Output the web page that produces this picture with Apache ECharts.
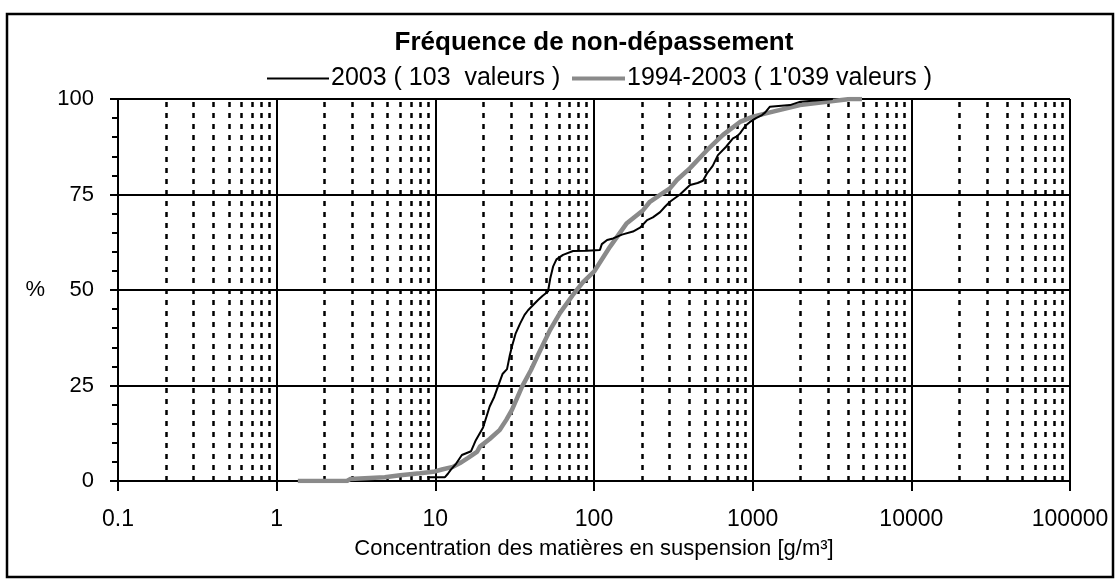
<!DOCTYPE html>
<html>
<head>
<meta charset="utf-8">
<script src="https://cdn.jsdelivr.net/npm/echarts@6/dist/echarts.min.js"></script>
<style>
  html, body { margin: 0; padding: 0; background: #fff; }
  #chart { width: 1120px; height: 583px; }
</style>
</head>
<body>
<div id="chart"></div>
<script>
// Axis tick labels (log x axis: one label per decade)
const xTickLabels = ['0.1', '1', '10', '100', '1000', '10000', '100000'];
const yTickStep = 25;

// Series names
const name2003 = '2003 ( 103  valeurs )';
const nameAll = '1994-2003 ( 1\'039 valeurs )';

// 2003: concentration [g/m3] and cumulative frequency [%]
const conc2003 = [8.9, 11.5, 12.0, 12.5, 13.5, 14.7, 16.8, 17.5, 18.0, 20.0, 22.0, 23.5, 24.8, 26.5, 28.3, 29.5,
  30.4, 32.0, 34.2, 36.5, 38.4, 44.4, 47.5, 51.3, 53.0, 55.2, 58.0, 63.8, 73.8, 90, 109, 112, 121, 132, 150,
  176, 195, 216, 235, 261, 280, 301, 348, 403, 450, 486, 515, 560, 604, 680, 751, 800, 832, 900, 962, 1050,
  1146, 1200, 1285, 1718, 2000, 3200];
const freq2003 = [1.0, 1.0, 1.9, 2.9, 4.5, 6.8, 7.8, 9.5, 10.7, 14.0, 19.5, 22.0, 24.7, 28.0, 29.3, 33.0,
  35.2, 38.5, 41.2, 43.5, 44.7, 47.4, 48.5, 49.6, 53.0, 56.1, 58.0, 59.2, 60.2, 60.3, 60.5, 62.0, 63.1, 63.5, 64.5,
  65.3, 66.3, 68.3, 69.0, 70.4, 71.8, 73.1, 75.0, 77.5, 78.0, 78.6, 80.5, 82.5, 85.3, 87.5, 89.7, 90.3, 91.0, 93.0, 94.0, 95.0,
  95.8, 96.5, 98.0, 98.4, 99.3, 100];

// 1994-2003: concentration [g/m3] and cumulative frequency [%]
const concAll = [1.36, 2.77, 2.9, 4.8, 6.0, 8.0, 9.7, 11.0, 12.9, 14.3, 16.0, 18.3, 19.1, 22.0, 25.5, 28.0,
  30.4, 35.2, 40.0, 43.8, 52.8, 61.1, 73.0, 85.0, 100, 126, 161, 204, 225, 261, 301, 333, 403, 515, 650,
  832, 1005, 1343, 1986, 2938, 4105, 4887];
const freqAll = [0, 0, 0.5, 1.0, 1.5, 2.0, 2.4, 3.0, 3.7, 4.7, 6.0, 7.6, 9.0, 11.0, 13.4, 16.0,
  18.6, 24.7, 29.0, 32.5, 39.5, 44.0, 48.5, 52.0, 54.8, 61.3, 67.5, 70.9, 73.1, 74.9, 76.6, 78.8, 81.9, 86.6, 90.6,
  94.0, 95.4, 96.7, 98.4, 99.3, 100, 100];

const FONT = "'Liberation Sans', Arial, sans-serif";
const BLACK = '#000';
const GREY = '#8a8a8a';

// Intermediate vertical grid positions (2..9 within each decade)
const minorX = [];
for (let e = -1; e < 5; e++) {
  for (let m = 2; m <= 9; m++) minorX.push({ xAxis: m * Math.pow(10, e) });
}

const pairs = (xs, ys) => xs.map((x, i) => [x, ys[i]]);

const legendText = { fontFamily: FONT, fontSize: 25, color: BLACK, padding: [0, 0, 0, -3] };

const chart = echarts.init(document.getElementById('chart'), null, { renderer: 'canvas' });
chart.setOption({
  animation: false,
  backgroundColor: '#fff',
  title: {
    text: 'Fréquence de non-dépassement',
    left: 589,
    textAlign: 'center',
    top: 25,
    textStyle: { fontFamily: FONT, fontSize: 26, fontWeight: 'bold', color: BLACK }
  },
  // Each legend entry is drawn as a plain line segment of the series' stroke
  legend: [
    {
      left: 262, top: 61, itemWidth: 62, itemHeight: 2, icon: 'rect',
      textStyle: legendText,
      data: [{ name: name2003, itemStyle: { color: BLACK } }]
    },
    {
      left: 567, top: 61, itemWidth: 53, itemHeight: 4, icon: 'rect',
      textStyle: legendText,
      data: [{ name: nameAll, itemStyle: { color: GREY } }]
    }
  ],
  graphic: [{
    type: 'rect',
    shape: { x: 7, y: 14, width: 1106, height: 563 },
    style: { fill: 'none', stroke: BLACK, lineWidth: 2.5 },
    silent: true
  }],
  grid: { left: 118, top: 99, width: 952, height: 382 },
  xAxis: {
    type: 'log',
    logBase: 10,
    min: 0.1,
    max: 100000,
    name: 'Concentration des matières en suspension [g/m³]',
    nameLocation: 'middle',
    nameGap: 57,
    nameTextStyle: { fontFamily: FONT, fontSize: 22, color: BLACK },
    axisLine: { show: true, lineStyle: { color: BLACK, width: 2 } },
    axisTick: { show: true, length: 10, lineStyle: { color: BLACK, width: 2 } },
    axisLabel: {
      margin: 27,
      fontFamily: FONT, fontSize: 23, color: BLACK,
      formatter: v => xTickLabels[Math.round(Math.log10(v)) + 1]
    },
    splitLine: { show: true, lineStyle: { color: BLACK, width: 2 } }
  },
  yAxis: {
    type: 'value',
    min: 0,
    max: 100,
    interval: yTickStep,
    name: '%',
    nameLocation: 'middle',
    nameRotate: 0,
    nameGap: 73,
    nameTextStyle: { fontFamily: FONT, fontSize: 22, color: BLACK },
    axisLine: { show: true, lineStyle: { color: BLACK, width: 2 } },
    axisTick: { show: true, length: 8, lineStyle: { color: BLACK, width: 2 } },
    minorTick: { show: true, splitNumber: 5, length: 6, lineStyle: { color: BLACK, width: 2 } },
    axisLabel: { margin: 24, fontFamily: FONT, fontSize: 22, color: BLACK },
    splitLine: { show: true, lineStyle: { color: BLACK, width: 2 } }
  },
  series: [
    {
      name: name2003,
      type: 'line',
      data: pairs(conc2003, freq2003),
      showSymbol: false,
      symbol: 'none',
      z: 4,
      lineStyle: { color: BLACK, width: 2 },
      itemStyle: { color: BLACK },
      markLine: {
        silent: true,
        symbol: 'none',
        z: 1,
        label: { show: false },
        lineStyle: { color: BLACK, width: 2.5, type: [5, 6] },
        emphasis: { disabled: true },
        data: minorX
      }
    },
    {
      name: nameAll,
      type: 'line',
      data: pairs(concAll, freqAll),
      showSymbol: false,
      symbol: 'none',
      z: 3,
      lineStyle: { color: GREY, width: 4.5 },
      itemStyle: { color: GREY }
    }
  ]
});
</script>
</body>
</html>
